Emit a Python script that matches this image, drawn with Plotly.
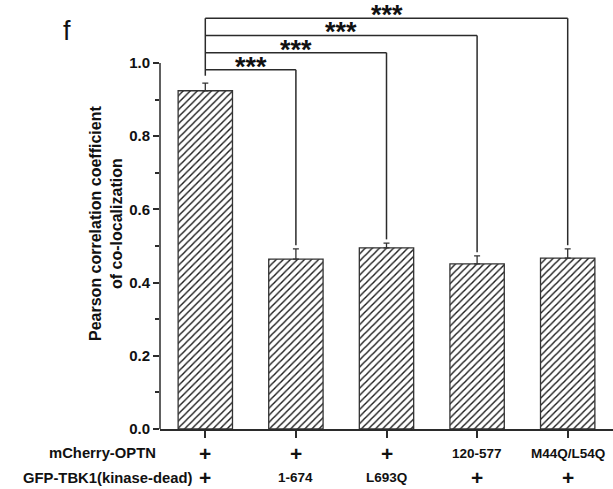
import plotly.graph_objects as go

# ---- data ----
categories = ["OPTN + TBK1(KD)", "OPTN + 1-674", "OPTN + L693Q", "120-577 + TBK1(KD)", "M44Q/L54Q + TBK1(KD)"]
values = [0.924, 0.464, 0.495, 0.451, 0.467]
errors = [0.021, 0.028, 0.013, 0.022, 0.025]
row1_name = "mCherry-OPTN"
row2_name = "GFP-TBK1(kinase-dead)"
row1_labels = ["+", "+", "+", "120-577", "M44Q/L54Q"]
row2_labels = ["+", "1-674", "L693Q", "+", "+"]
sig_targets = [1, 2, 3, 4]
sig_labels = ["***", "***", "***", "***"]
y_ticks = [0.0, 0.2, 0.4, 0.6, 0.8, 1.0]
y_minor = [0.1, 0.3, 0.5, 0.7, 0.9]

x = list(range(len(categories)))
FONT = "Liberation Sans, Arial, sans-serif"
LINE = "#2b2b2b"

fig = go.Figure()
fig.add_trace(go.Bar(
    x=x, y=values, width=0.6,
    marker=dict(color="white", line=dict(color="#333", width=1.3),
                pattern=dict(shape="/", size=5, solidity=0.28, fgcolor="#1a1a1a", fgopacity=1,
                             bgcolor="white")),
    error_y=dict(type="data", symmetric=False, array=errors, arrayminus=[0] * len(errors),
                 color="#333", thickness=1.3, width=3),
    hovertext=categories,
))

shapes = []
# y axis line only from 0 to 1.0
shapes.append(dict(type="line", xref="paper", yref="y", x0=0, x1=0, y0=0, y1=max(y_ticks),
                   line=dict(color=LINE, width=1.5)))
# significance brackets
top0 = values[0] + errors[0]
base = top0 + 0.036
step = 0.047
heights = [base + i * step for i in range(len(sig_targets))]
shapes.append(dict(type="line", xref="x", yref="y", x0=0, x1=0, y0=top0 + 0.02, y1=heights[-1],
                   line=dict(color=LINE, width=1.5)))
annotations = []
for t, h, lab in zip(sig_targets, heights, sig_labels):
    shapes.append(dict(type="line", xref="x", yref="y", x0=0, x1=t, y0=h, y1=h,
                       line=dict(color=LINE, width=1.5)))
    shapes.append(dict(type="line", xref="x", yref="y", x0=t, x1=t, y0=h,
                       y1=values[t] + errors[t] + 0.01, line=dict(color=LINE, width=1.5)))
    annotations.append(dict(x=t / 2, y=h, xref="x", yref="y", text="<b>" + lab + "</b>",
                            showarrow=False, yanchor="middle", yshift=3,
                            font=dict(family=FONT, size=27, color="#111")))

# bottom table
for xi, (a, b) in enumerate(zip(row1_labels, row2_labels)):
    for lab, ypx in ((a, -24), (b, -48)):
        big = lab == "+"
        annotations.append(dict(x=xi, y=0, xref="x", yref="y", text="<b>" + lab + "</b>",
                                showarrow=False, yanchor="middle", yshift=ypx,
                                font=dict(family=FONT, size=21 if big else 13.5, color="#111")))
annotations.append(dict(x=0, y=0, xref="paper", yref="y", text="<b>" + row1_name + "</b>",
                        showarrow=False, xanchor="right", yanchor="middle", xshift=-2, yshift=-24,
                        font=dict(family=FONT, size=14.8, color="#111")))
annotations.append(dict(x=0, y=0, xref="paper", yref="y", text="<b>" + row2_name + "</b>",
                        showarrow=False, xanchor="right", yanchor="middle", xshift=34, yshift=-49,
                        font=dict(family=FONT, size=14.8, color="#111")))
# y title
annotations.append(dict(x=0, y=0.56, xref="paper", yref="y", text="<b>Pearson correlation coefficient<br>of co-localization</b>",
                        showarrow=False, textangle=-90, xanchor="center", yanchor="middle", xshift=-54,
                        font=dict(family=FONT, size=16, color="#111")))
# panel letter
annotations.append(dict(x=0, y=1, xref="paper", yref="paper", text="f", showarrow=False,
                        xanchor="left", yanchor="top", xshift=-99, yshift=-6,
                        font=dict(family=FONT, size=27, color="#111")))

fig.update_layout(
    width=613, height=489,
    margin=dict(l=160, r=0, t=8, b=60),
    plot_bgcolor="white", paper_bgcolor="white",
    showlegend=False,
    shapes=shapes, annotations=annotations,
    xaxis=dict(range=[-0.5, len(categories) - 0.5], tickvals=x, showticklabels=False,
               ticks="outside", ticklen=7, tickwidth=1.5, tickcolor=LINE,
               showline=True, linecolor=LINE, linewidth=1.5, showgrid=False, zeroline=False, fixedrange=True),
    yaxis=dict(range=[0, 1.15], tickvals=y_ticks, ticktext=["<b>%.1f</b>" % v for v in y_ticks],
               ticks="outside", ticklen=6, tickwidth=1.5, tickcolor=LINE,
               minor=dict(tickmode="array", tickvals=y_minor, ticks="outside", ticklen=4,
                          tickwidth=1.5, tickcolor=LINE),
               tickfont=dict(family=FONT, size=15, color="#111"),
               showline=False, showgrid=False, zeroline=False),
)
fig.write_html("out.html", config={"displayModeBar": False},
               post_script="document.body.style.margin='0';")
